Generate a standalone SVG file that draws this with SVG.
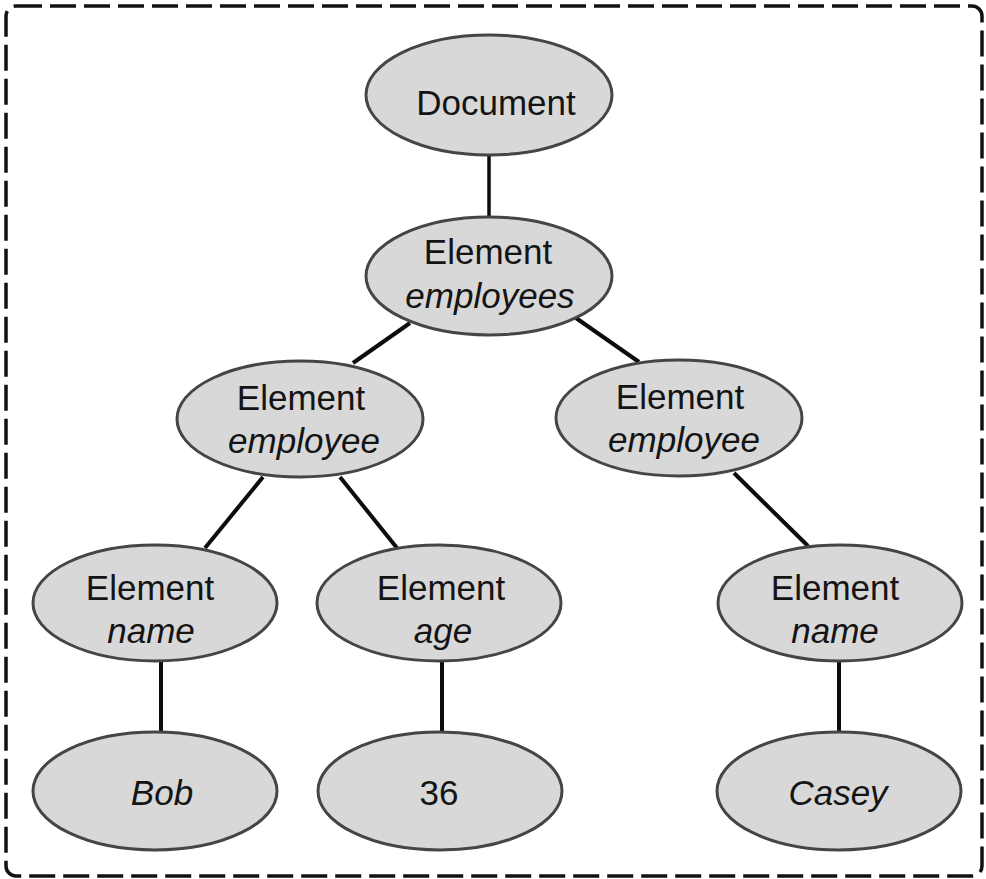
<svg xmlns="http://www.w3.org/2000/svg" width="986" height="879" viewBox="0 0 986 879">
  <style>
    .node ellipse { fill: #d8d8d8; stroke: #454545; stroke-width: 3; }
    .node text { font-family: "Liberation Sans", Arial, sans-serif; font-size: 35px; fill: #141414; text-anchor: middle; }
    .node text.it { font-style: italic; }
    .edges line { stroke: #0c0c0c; stroke-width: 4; }
    .frame { fill: none; stroke: #111; stroke-width: 3.5; stroke-dasharray: 26 8; }
  </style>
  <rect width="986" height="879" fill="#ffffff"/>
  <!-- dashed frame -->
  <rect class="frame" x="6" y="6" width="976" height="870" rx="10" ry="10"/>

  <!-- tree edges -->
  <g id="edges" class="edges">
    <line x1="489" y1="155" x2="489" y2="217" style="stroke-width:3.5"/>
    <line x1="410" y1="323" x2="353" y2="363"/>
    <line x1="576" y1="318" x2="639" y2="362"/>
    <line x1="263" y1="477" x2="205" y2="548"/>
    <line x1="340" y1="477" x2="397" y2="548"/>
    <line x1="734" y1="473" x2="808" y2="546"/>
    <line x1="161" y1="662" x2="161" y2="732"/>
    <line x1="442" y1="662" x2="442" y2="732"/>
    <line x1="839" y1="662" x2="839" y2="732"/>
  </g>

  <g id="document" class="node">
    <ellipse cx="489" cy="95" rx="123" ry="60"/>
    <text x="496" y="115">Document</text>
  </g>

  <g id="employees" class="node">
    <ellipse cx="489" cy="276" rx="123" ry="59"/>
    <text x="488" y="264">Element</text>
    <text class="it" x="490" y="308">employees</text>
  </g>

  <g id="employee-1" class="node">
    <ellipse cx="300" cy="419" rx="123" ry="58"/>
    <text x="301" y="410">Element</text>
    <text class="it" x="304" y="453">employee</text>
  </g>

  <g id="employee-2" class="node">
    <ellipse cx="679" cy="418" rx="123" ry="58"/>
    <text x="680" y="409">Element</text>
    <text class="it" x="684" y="452">employee</text>
  </g>

  <g id="name-1" class="node">
    <ellipse cx="155" cy="603" rx="122" ry="58"/>
    <text x="150" y="600">Element</text>
    <text class="it" x="151" y="643">name</text>
  </g>

  <g id="age" class="node">
    <ellipse cx="439" cy="603" rx="122" ry="58"/>
    <text x="441" y="600">Element</text>
    <text class="it" x="443" y="643">age</text>
  </g>

  <g id="name-2" class="node">
    <ellipse cx="840" cy="603" rx="122" ry="58"/>
    <text x="835" y="600">Element</text>
    <text class="it" x="835" y="643">name</text>
  </g>

  <g id="bob" class="node">
    <ellipse cx="155" cy="791" rx="122" ry="59"/>
    <text class="it" x="162" y="805">Bob</text>
  </g>

  <g id="age-value" class="node">
    <ellipse cx="440" cy="791" rx="122" ry="59"/>
    <text x="439" y="805">36</text>
  </g>

  <g id="casey" class="node">
    <ellipse cx="839" cy="791" rx="122" ry="59"/>
    <text class="it" x="838" y="805">Casey</text>
  </g>
</svg>
